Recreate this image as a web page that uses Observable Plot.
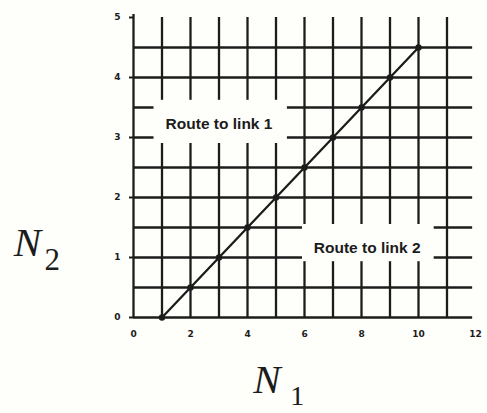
<!DOCTYPE html>
<html>
<head>
<meta charset="utf-8">
<script src="https://cdn.jsdelivr.net/npm/d3@7"></script>
<script src="https://cdn.jsdelivr.net/npm/@observablehq/plot@0.6"></script>
<style>
  html, body { margin: 0; padding: 0; background: #fefefb; }
  #chart { width: 487px; height: 413px; }
</style>
</head>
<body>
<div id="chart"></div>
<script>
// Tick values
const xTicks = [0, 2, 4, 6, 8, 10, 12];
const yTicks = [0, 1, 2, 3, 4, 5];
// Grid positions
const gridX = [1, 2, 3, 4, 5, 6, 7, 8, 9, 10, 11];
const gridY = [0.5, 1, 1.5, 2, 2.5, 3, 3.5, 4, 4.5];
// Threshold curve: N1 vs N2
const n1 = [1, 2, 3, 4, 5, 6, 7, 8, 9, 10];
const n2 = [0, 0.5, 1, 1.5, 2, 2.5, 3, 3.5, 4, 4.5];
// Region labels
const regionLabels = ["Route to link 1", "Route to link 2"];

const ink = "#1c1c1c";
const pts = n1.map((x, i) => ({x, y: n2[i]}));

const chart = Plot.plot({
  width: 487,
  height: 413,
  marginLeft: 133,
  marginRight: 12,
  marginTop: 17,
  marginBottom: 96,
  style: {background: "#fefefb", color: ink, fontFamily: "DejaVu Sans"},
  x: {domain: [0, 12]},
  y: {domain: [0, 5]},
  marks: [
    Plot.ruleX(gridX, {y1: 0, y2: 5, stroke: ink, strokeWidth: 2.3}),
    Plot.ruleY(gridY, {x1: 0, x2: 11.9, stroke: ink, strokeWidth: 2.3}),
    Plot.ruleX([0], {y1: 0, y2: 5.05, stroke: ink, strokeWidth: 2.3}),
    Plot.ruleY([0], {x1: 0, x2: 11.9, stroke: ink, strokeWidth: 2.3}),
    // knock-out boxes behind the region labels
    Plot.rect([regionLabels[0]], {x1: 0.72, x2: 5.4, y1: 2.9, y2: 3.62, fill: "#fefefb"}),
    Plot.rect([regionLabels[1]], {x1: 5.93, x2: 10.55, y1: 0.93, y2: 1.55, fill: "#fefefb"}),
    Plot.line(pts, {x: "x", y: "y", stroke: ink, strokeWidth: 2.3}),
    Plot.dot(pts, {x: "x", y: "y", r: 3.2, fill: ink, stroke: "none"}),
    Plot.axisX(xTicks, {tickSize: 0, tickPadding: 13, fontSize: 9, fontWeight: "bold", tickFormat: d3.format("d"), label: null}),
    Plot.axisY(yTicks, {tickSize: 4, tickPadding: 9, fontSize: 9, fontWeight: "bold", strokeWidth: 2, tickFormat: d3.format("d"), label: null}),
    Plot.text([regionLabels[0]], {x: 3.0, y: 3.23, fontSize: 15.5, fontWeight: "bold", fontFamily: "Liberation Sans", fill: ink}),
    Plot.text([regionLabels[1]], {x: 8.2, y: 1.15, fontSize: 15.5, fontWeight: "bold", fontFamily: "Liberation Sans", fill: ink}),
    // axis titles N2 and N1
    Plot.text(["N"], {x: -4.2, y: 1.03, textAnchor: "start", lineAnchor: "bottom", fontSize: 41, fontStyle: "italic", fontFamily: "Liberation Serif", fill: ink}),
    Plot.text(["2"], {x: -3.12, y: 0.79, textAnchor: "start", lineAnchor: "bottom", fontSize: 31, fontFamily: "Liberation Serif", fill: ink}),
    Plot.text(["N"], {x: 4.2, y: -1.26, textAnchor: "start", lineAnchor: "bottom", fontSize: 41, fontStyle: "italic", fontFamily: "Liberation Serif", fill: ink}),
    Plot.text(["1"], {x: 5.5, y: -1.45, textAnchor: "start", lineAnchor: "bottom", fontSize: 28, fontFamily: "Liberation Serif", fill: ink})
  ]
});
document.getElementById("chart").append(chart);
</script>
</body>
</html>
